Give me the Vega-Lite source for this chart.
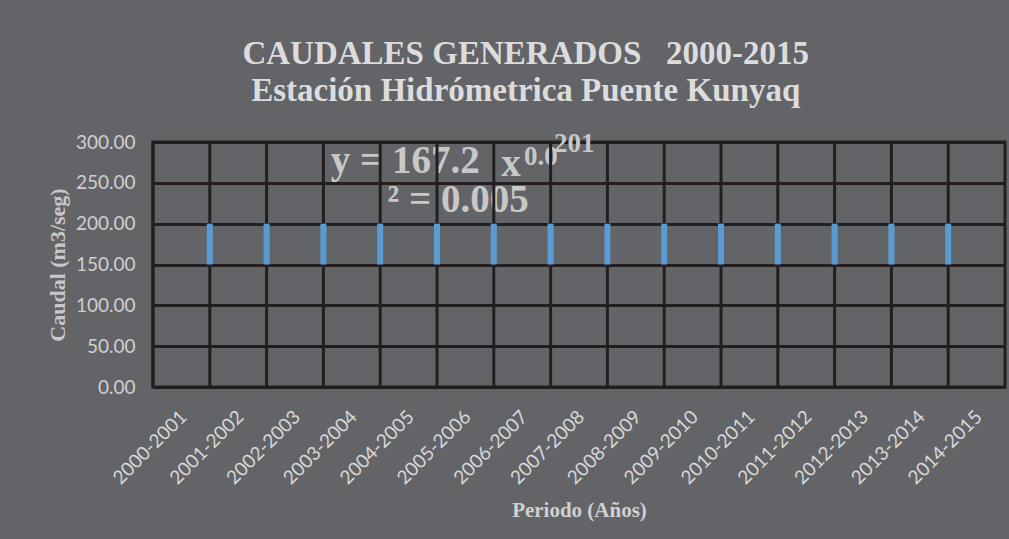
{
  "$schema": "https://vega.github.io/schema/vega-lite/v6.json",
  "width": 852,
  "height": 245,
  "autosize": {"type": "none"},
  "padding": {"left": 153, "top": 142, "right": 4, "bottom": 152},
  "background": "#636467",
  "title": {
    "text": ["CAUDALES GENERADOS \u00a0 2000-2015", "Estación Hidrómetrica Puente Kunyaq"],
    "font": "Liberation Serif",
    "fontWeight": "bold",
    "fontSize": 33,
    "lineHeight": 37,
    "color": "#dcdcdc",
    "anchor": "middle",
    "frame": "bounds",
    "offset": 22
  },
  "datasets": {
    "periodos": [
      {"periodo": "2000-2001"}, {"periodo": "2001-2002"}, {"periodo": "2002-2003"},
      {"periodo": "2003-2004"}, {"periodo": "2004-2005"}, {"periodo": "2005-2006"},
      {"periodo": "2006-2007"}, {"periodo": "2007-2008"}, {"periodo": "2008-2009"},
      {"periodo": "2009-2010"}, {"periodo": "2010-2011"}, {"periodo": "2011-2012"},
      {"periodo": "2012-2013"}, {"periodo": "2013-2014"}, {"periodo": "2014-2015"}
    ],
    "barras": [
      {"periodo": "2001-2002", "caudal_min": 150, "caudal_max": 200},
      {"periodo": "2002-2003", "caudal_min": 150, "caudal_max": 200},
      {"periodo": "2003-2004", "caudal_min": 150, "caudal_max": 200},
      {"periodo": "2004-2005", "caudal_min": 150, "caudal_max": 200},
      {"periodo": "2005-2006", "caudal_min": 150, "caudal_max": 200},
      {"periodo": "2006-2007", "caudal_min": 150, "caudal_max": 200},
      {"periodo": "2007-2008", "caudal_min": 150, "caudal_max": 200},
      {"periodo": "2008-2009", "caudal_min": 150, "caudal_max": 200},
      {"periodo": "2009-2010", "caudal_min": 150, "caudal_max": 200},
      {"periodo": "2010-2011", "caudal_min": 150, "caudal_max": 200},
      {"periodo": "2011-2012", "caudal_min": 150, "caudal_max": 200},
      {"periodo": "2012-2013", "caudal_min": 150, "caudal_max": 200},
      {"periodo": "2013-2014", "caudal_min": 150, "caudal_max": 200},
      {"periodo": "2014-2015", "caudal_min": 150, "caudal_max": 200}
    ],
    "ecuacion_grande": [
      {"texto": "y = 167.2", "periodo": "2003-2004", "caudal": 262},
      {"texto": "x", "periodo": "2006-2007", "caudal": 258},
      {"texto": "² = 0.005", "periodo": "2004-2005", "caudal": 214}
    ],
    "ecuacion_exp": [
      {"texto": "0.0", "periodo": "2006-2007", "caudal": 272}
    ],
    "ecuacion_exp2": [
      {"texto": "201", "periodo": "2007-2008", "caudal": 288}
    ]
  },
  "layer": [
    {
      "data": {"name": "ecuacion_grande"},
      "mark": {"type": "text", "align": "left", "baseline": "alphabetic", "font": "Liberation Serif", "fontWeight": "bold", "fontSize": 39, "color": "#c8c8c8"},
      "encoding": {
        "x": {"field": "periodo", "type": "nominal", "bandPosition": 0.13, "title": "Periodo (Años)"},
        "y": {"field": "caudal", "type": "quantitative", "scale": {"domain": [0, 300]}, "title": "Caudal (m3/seg)", "axis": {"values": [0, 50, 100, 150, 200, 250, 300], "format": ".2f"}},
        "text": {"field": "texto"}
      }
    },
    {
      "data": {"name": "ecuacion_exp"},
      "mark": {"type": "text", "align": "left", "baseline": "alphabetic", "font": "Liberation Serif", "fontWeight": "bold", "fontSize": 27, "color": "#c8c8c8"},
      "encoding": {
        "x": {"field": "periodo", "type": "nominal", "bandPosition": 0.53, "title": "Periodo (Años)"},
        "y": {"field": "caudal", "type": "quantitative", "scale": {"domain": [0, 300]}, "title": "Caudal (m3/seg)", "axis": {"values": [0, 50, 100, 150, 200, 250, 300], "format": ".2f"}},
        "text": {"field": "texto"}
      }
    },
    {
      "data": {"name": "ecuacion_exp2"},
      "mark": {"type": "text", "align": "left", "baseline": "alphabetic", "font": "Liberation Serif", "fontWeight": "bold", "fontSize": 27, "color": "#c8c8c8"},
      "encoding": {
        "x": {"field": "periodo", "type": "nominal", "bandPosition": 0.06, "title": "Periodo (Años)"},
        "y": {"field": "caudal", "type": "quantitative", "scale": {"domain": [0, 300]}, "title": "Caudal (m3/seg)", "axis": {"values": [0, 50, 100, 150, 200, 250, 300], "format": ".2f"}},
        "text": {"field": "texto"}
      }
    },
    {
      "data": {"name": "periodos"},
      "mark": {"type": "rule", "color": "#231f20", "strokeWidth": 3},
      "encoding": {
        "x": {"field": "periodo", "type": "nominal", "bandPosition": 0, "title": "Periodo (Años)", "scale": {"paddingInner": 0, "paddingOuter": 0}}
      }
    },
    {
      "data": {"name": "barras"},
      "mark": {"type": "rule", "color": "#5b9bd5", "strokeWidth": 6, "strokeCap": "butt"},
      "encoding": {
        "x": {"field": "periodo", "type": "nominal", "bandPosition": 0, "title": "Periodo (Años)"},
        "y": {"field": "caudal_min", "type": "quantitative", "scale": {"domain": [0, 300]}, "title": "Caudal (m3/seg)", "axis": {"values": [0, 50, 100, 150, 200, 250, 300], "format": ".2f"}},
        "y2": {"field": "caudal_max"}
      }
    }
  ],
  "config": {
    "view": {"stroke": "#231f20", "strokeWidth": 3, "fill": "#636467"},
    "axisX": {
      "labelAngle": -45,
      "labelFont": "Lato",
      "labelFontSize": 19,
      "labelColor": "#d8d8d8",
      "labelPadding": 20,
      "labelOffset": -4,
      "ticks": false,
      "domain": false,
      "grid": false,
      "titleFont": "Liberation Serif",
      "titleFontWeight": "bold",
      "titleFontSize": 21,
      "titleColor": "#d0d0d0",
      "titlePadding": 12
    },
    "axisY": {
      "labelFont": "Lato",
      "labelFontSize": 19,
      "labelColor": "#d0d0d0",
      "labelPadding": 18,
      "ticks": false,
      "domain": false,
      "grid": true,
      "gridColor": "#231f20",
      "gridWidth": 3,
      "gridOpacity": 1,
      "zindex": 1,
      "titleFont": "Liberation Serif",
      "titleFontWeight": "bold",
      "titleFontSize": 22,
      "titleColor": "#c8c8c8",
      "titlePadding": 6
    }
  }
}
